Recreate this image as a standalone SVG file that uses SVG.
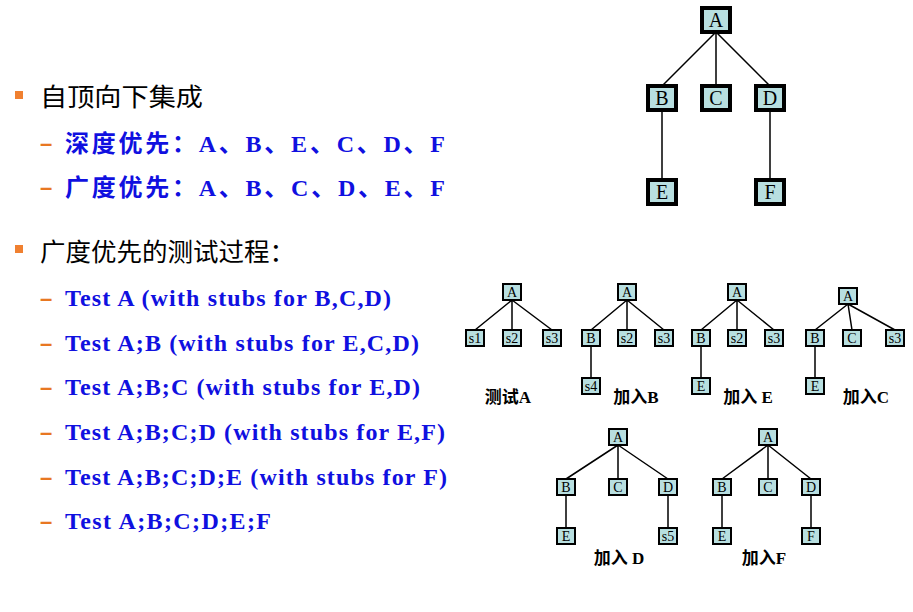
<svg xmlns="http://www.w3.org/2000/svg" width="913" height="612" viewBox="0 0 913 612">
<style>
.b{fill:#b8dfe0;stroke:#000;stroke-width:2}
.bb{fill:#b8dfe0;stroke:#000;stroke-width:4}
.t{font-family:"Liberation Serif",serif;font-size:14px;text-anchor:middle}
.tb{font-family:"Liberation Serif",serif;font-size:20px;text-anchor:middle}
.l{stroke:#000;stroke-width:1.5;fill:none}
.lab{font-family:"Liberation Serif","Noto Sans CJK SC",serif;font-size:17px;font-weight:bold;text-anchor:middle}
.k{font-family:"Noto Sans CJK SC",sans-serif;font-size:25px}
.s{font-family:"Liberation Serif","Noto Sans CJK SC",serif;font-size:24px;font-weight:bold;fill:#1010e0}
.d{fill:#e87722;font-family:"Liberation Sans",sans-serif;font-size:22px;font-weight:bold}
</style>
<rect width="913" height="612" fill="#fff"/>
<g id="text">
<rect x="15" y="91" width="8" height="8" fill="#f08030"/>
<text class="k" x="40" y="106" textLength="163" lengthAdjust="spacingAndGlyphs">自顶向下集成</text>
<text class="d" x="40" y="151">–</text><text class="s" x="65" y="152" textLength="380">深度优先：A、B、E、C、D、F</text>
<text class="d" x="40" y="195">–</text><text class="s" x="65" y="196" textLength="380">广度优先：A、B、C、D、E、F</text>
<rect x="15" y="245" width="8" height="8" fill="#f08030"/>
<text class="k" x="40" y="261" textLength="255" lengthAdjust="spacingAndGlyphs">广度优先的测试过程：</text>
<text class="d" x="40" y="306">–</text><text class="s" x="65" y="306" textLength="326">Test A (with stubs for B,C,D)</text>
<text class="d" x="40" y="351">–</text><text class="s" x="65" y="351" textLength="354">Test A;B (with stubs for E,C,D)</text>
<text class="d" x="40" y="395">–</text><text class="s" x="65" y="395" textLength="355">Test A;B;C (with stubs for E,D)</text>
<text class="d" x="40" y="440">–</text><text class="s" x="65" y="440" textLength="380">Test A;B;C;D (with stubs for E,F)</text>
<text class="d" x="40" y="485">–</text><text class="s" x="65" y="485" textLength="382">Test A;B;C;D;E (with stubs for F)</text>
<text class="d" x="40" y="529">–</text><text class="s" x="65" y="529" textLength="206">Test A;B;C;D;E;F</text>
</g>
<g id="connectors">
<path class="l" d="M716 32L662 86M716 32V86M716 32L770 86M662 110V180M770 110V180" stroke-width="1"/>
<path class="l" d="M512 300L475 330M512 300V330M512 300L552 330"/>
<path class="l" d="M627 300L591 330M627 300V330M627 300L664 330M591 346V378"/>
<path class="l" d="M737 300L701 330M737 300V330M737 300L774 330M701 346V378"/>
<path class="l" d="M848 304L815 330M848 304L852 330M848 304L895 330M815 346V378"/>
<path class="l" d="M618 445L566 479M618 445V479M618 445L668 479M566 495V528M668 495V528"/>
<path class="l" d="M768 445L722 479M768 445V479M768 445L811 479M722 495V528M811 495V528"/>
</g>
<g id="bigtree">
<g id="nA"><rect class="bb" x="702" y="8" width="28" height="24"/><text class="tb" x="716" y="27">A</text></g>
<g id="nB"><rect class="bb" x="648" y="86" width="28" height="24"/><text class="tb" x="662" y="105">B</text></g>
<g id="nC"><rect class="bb" x="702" y="86" width="28" height="24"/><text class="tb" x="716" y="105">C</text></g>
<g id="nD"><rect class="bb" x="756" y="86" width="28" height="24"/><text class="tb" x="770" y="105">D</text></g>
<g id="nE"><rect class="bb" x="648" y="180" width="28" height="24"/><text class="tb" x="662" y="199">E</text></g>
<g id="nF"><rect class="bb" x="756" y="180" width="28" height="24"/><text class="tb" x="770" y="199">F</text></g>
</g>
<g id="t1">
<rect class="b" x="503" y="284" width="18" height="16"/><text class="t" x="512" y="297">A</text>
<rect class="b" x="466" y="330" width="18" height="16"/><text class="t" x="475" y="343">s1</text>
<rect class="b" x="503" y="330" width="18" height="16"/><text class="t" x="512" y="343">s2</text>
<rect class="b" x="543" y="330" width="18" height="16"/><text class="t" x="552" y="343">s3</text>
<text class="lab" x="508" y="403">测试A</text>
</g>
<g id="t2">
<rect class="b" x="618" y="284" width="18" height="16"/><text class="t" x="627" y="297">A</text>
<rect class="b" x="582" y="330" width="18" height="16"/><text class="t" x="591" y="343">B</text>
<rect class="b" x="618" y="330" width="18" height="16"/><text class="t" x="627" y="343">s2</text>
<rect class="b" x="655" y="330" width="18" height="16"/><text class="t" x="664" y="343">s3</text>
<rect class="b" x="582" y="378" width="18" height="16"/><text class="t" x="591" y="391">s4</text>
<text class="lab" x="636" y="403">加入B</text>
</g>
<g id="t3">
<rect class="b" x="728" y="284" width="18" height="16"/><text class="t" x="737" y="297">A</text>
<rect class="b" x="692" y="330" width="18" height="16"/><text class="t" x="701" y="343">B</text>
<rect class="b" x="728" y="330" width="18" height="16"/><text class="t" x="737" y="343">s2</text>
<rect class="b" x="765" y="330" width="18" height="16"/><text class="t" x="774" y="343">s3</text>
<rect class="b" x="692" y="378" width="18" height="16"/><text class="t" x="701" y="391">E</text>
<text class="lab" x="748" y="403">加入 E</text>
</g>
<g id="t4">
<rect class="b" x="839" y="288" width="18" height="16"/><text class="t" x="848" y="301">A</text>
<rect class="b" x="806" y="330" width="18" height="16"/><text class="t" x="815" y="343">B</text>
<rect class="b" x="843" y="330" width="18" height="16"/><text class="t" x="852" y="343">C</text>
<rect class="b" x="886" y="330" width="18" height="16"/><text class="t" x="895" y="343">s3</text>
<rect class="b" x="806" y="378" width="18" height="16"/><text class="t" x="815" y="391">E</text>
<text class="lab" x="866" y="403">加入C</text>
</g>
<g id="t5">
<rect class="b" x="609" y="429" width="18" height="16"/><text class="t" x="618" y="442">A</text>
<rect class="b" x="557" y="479" width="18" height="16"/><text class="t" x="566" y="492">B</text>
<rect class="b" x="609" y="479" width="18" height="16"/><text class="t" x="618" y="492">C</text>
<rect class="b" x="659" y="479" width="18" height="16"/><text class="t" x="668" y="492">D</text>
<rect class="b" x="557" y="528" width="18" height="16"/><text class="t" x="566" y="541">E</text>
<rect class="b" x="659" y="528" width="18" height="16"/><text class="t" x="668" y="541">s5</text>
<text class="lab" x="619" y="564">加入 D</text>
</g>
<g id="t6">
<rect class="b" x="759" y="429" width="18" height="16"/><text class="t" x="768" y="442">A</text>
<rect class="b" x="713" y="479" width="18" height="16"/><text class="t" x="722" y="492">B</text>
<rect class="b" x="759" y="479" width="18" height="16"/><text class="t" x="768" y="492">C</text>
<rect class="b" x="802" y="479" width="18" height="16"/><text class="t" x="811" y="492">D</text>
<rect class="b" x="713" y="528" width="18" height="16"/><text class="t" x="722" y="541">E</text>
<rect class="b" x="802" y="528" width="18" height="16"/><text class="t" x="811" y="541">F</text>
<text class="lab" x="764" y="564">加入F</text>
</g>
</svg>
